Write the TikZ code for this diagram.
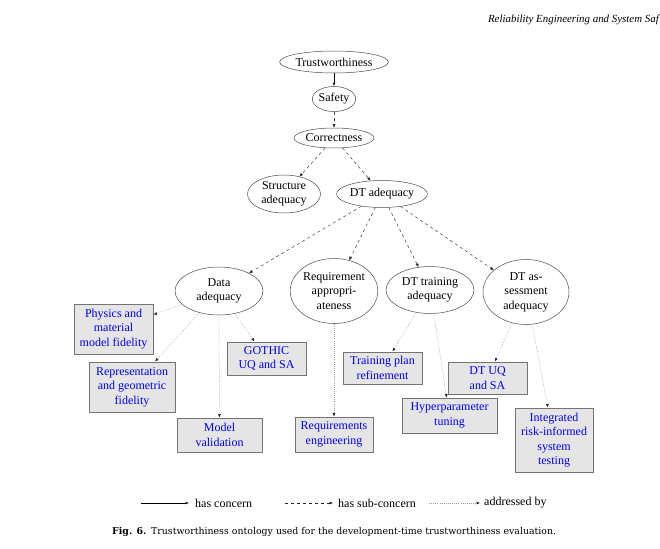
\documentclass[tikz,border=0pt]{standalone}
\usepackage{fontspec}
\setmainfont{Liberation Serif}
\newfontfamily\capfont{DejaVu Serif}
\usetikzlibrary{arrows.meta,shapes.geometric}
\begin{document}
\begin{tikzpicture}[x=1pt,y=-1pt,
  ell/.style={ellipse,draw=black!70,line width=0.5pt,inner sep=0pt,align=center,font=\fontsize{12}{14.5}\selectfont},
  box/.style={rectangle,draw=black!55,line width=1pt,fill=black!10,text=blue,align=center,inner xsep=2pt,inner ysep=3pt,font=\fontsize{12}{14.5}\selectfont},
  tip/.style={-{Latex[length=3.5pt,width=3pt,color=black!85]}},
  con/.style={tip,line width=0.6pt,black},
  sub/.style={tip,line width=0.5pt,black!75,dash pattern=on 3pt off 3pt},
  adr/.style={tip,line width=0.5pt,black!40,dash pattern=on 0.7pt off 1.4pt},
  lbl/.style={anchor=west,inner sep=0pt,font=\fontsize{12}{14.5}\selectfont},
]
\useasboundingbox[fill=white] (0,0) rectangle (660,548);

% header
\node[anchor=east,inner sep=0pt,font=\fontsize{10.9}{13}\selectfont\itshape] (hdr) at (659,20) {Reliability Engineering and System Saf};

% ellipses
\node[ell,minimum width=100pt,minimum height=22pt] (tw) at (334,62) {Trustworthiness};
\node[ell,minimum width=41pt,minimum height=25pt] (sf) at (334,99) {Safety};
\node[ell,minimum width=72pt,minimum height=20pt] (cr) at (334,138) {Correctness};
\node[ell,minimum width=73pt,minimum height=38pt] (sa) at (284,194) {Structure\\adequacy};
\node[ell,minimum width=83pt,minimum height=27pt] (dt) at (382,194) {DT adequacy};
\node[ell,minimum width=88pt,minimum height=48pt] (da) at (219,291) {Data\\adequacy};
\node[ell,minimum width=87pt,minimum height=65pt] (ra) at (334,291) {Requirement\\appropri-\\ateness};
\node[ell,minimum width=88pt,minimum height=47pt] (ta) at (430,290) {DT training\\adequacy};
\node[ell,minimum width=86pt,minimum height=65pt] (aa) at (526,292) {DT as-\\sessment\\adequacy};

% boxes
\node[box,minimum width=79pt,minimum height=50pt] (phys) at (113.5,329) {Physics and\\material\\model fidelity};
\node[box,minimum width=86pt,minimum height=50pt] (rep) at (132,387) {Representation\\and geometric\\fidelity};
\node[box,minimum width=79pt,minimum height=33pt] (go) at (266.5,358.5) {GOTHIC\\UQ and SA};
\node[box,minimum width=85pt,minimum height=34pt] (mv) at (219.5,435) {Model\\validation};
\node[box,minimum width=78pt,minimum height=35pt] (re) at (334,434.5) {Requirements\\engineering};
\node[box,minimum width=79pt,minimum height=32pt] (tp) at (382.5,368) {Training plan\\refinement};
\node[box,minimum width=79pt,minimum height=32pt] (uq) at (487.5,378) {DT UQ\\and SA};
\node[box,minimum width=95pt,minimum height=35pt] (hp) at (449.5,415.5) {Hyperparameter\\tuning};
\node[box,minimum width=78pt,minimum height=64pt] (it) at (554,440) {Integrated\\risk-informed\\system\\testing};

% connectors
\draw[con] (tw) -- (sf);
\draw[sub] (sf) -- (cr);
\draw[sub] (cr) -- (sa);
\draw[sub] (cr) -- (dt);
\draw[sub] (dt) -- (da);
\draw[sub] (dt) -- (ra);
\draw[sub] (dt) -- (ta);
\draw[sub] (dt) -- (aa);
\draw[adr] (da) -- (phys);
\draw[adr] (da) -- (rep);
\draw[adr] (da) -- (mv);
\draw[adr] (da) -- (go);
\draw[adr] (ra) -- (re);
\draw[adr] (ta) -- (tp);
\draw[adr] (ta) -- (hp);
\draw[adr] (aa) -- (uq);
\draw[adr] (aa) -- (it);

% legend
\coordinate (l1a) at (141,503);
\coordinate (l1b) at (189,503);
\node[lbl] (l1t) at (195,503) {has concern};
\coordinate (l2a) at (285,503);
\coordinate (l2b) at (333,503);
\node[lbl] (l2t) at (338,503) {has sub-concern};
\coordinate (l3a) at (429,503);
\coordinate (l3b) at (480,503);
\node[lbl] (l3t) at (484,503) {addressed by};
\draw[con] (l1a) -- (l1b);
\draw[sub,black!85] (l2a) -- (l2b);
\draw[adr] (l3a) -- (l3b);

% caption
\node[anchor=west,inner sep=0pt,font=\capfont\fontsize{9.4}{11}\selectfont] (cap) at (112,532) {\textbf{Fig. 6.}\hspace{0.5em}Trustworthiness ontology used for the development-time trustworthiness evaluation.};
\end{tikzpicture}
\end{document}
